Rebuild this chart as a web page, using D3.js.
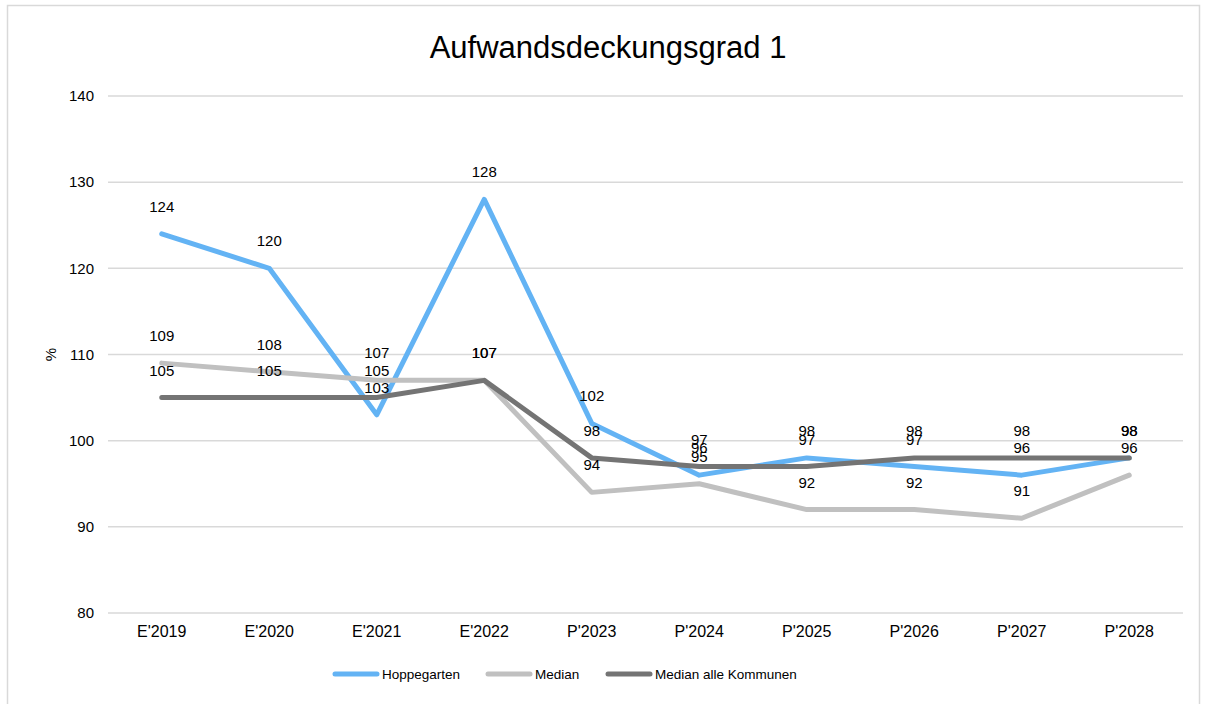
<!DOCTYPE html>
<html>
  <head>
    <meta charset="utf-8">
    <style>
      body {
        margin: 0;
        background: #fff;
        font-family: "Liberation Sans", Arial, sans-serif;
      }
      .grid line {
        stroke: #d9d9d9;
        stroke-width: 1.5px;
      }
      .series {
        fill: none;
        stroke-width: 5px;
        stroke-linejoin: round;
        stroke-linecap: round;
      }
      .lbl {
        font-size: 15px;
        fill: #000;
      }
    </style>
  </head>
  <body>
    <script src="https://d3js.org/d3.v7.min.js"></script>
    <script>
      // categories and values
      var years = ["E'2019", "E'2020", "E'2021", "E'2022", "P'2023", "P'2024", "P'2025", "P'2026", "P'2027", "P'2028"];
      var hoppegarten = [124, 120, 103, 128, 102, 96, 98, 97, 96, 98];
      var median = [109, 108, 107, 107, 94, 95, 92, 92, 91, 96];
      var medianAlle = [105, 105, 105, 107, 98, 97, 97, 98, 98, 98];
      var yTicks = [80, 90, 100, 110, 120, 130, 140];

      var series = [
        {name: "Hoppegarten", values: hoppegarten, color: "#63b3f4"},
        {name: "Median", values: median, color: "#c0c0c0"},
        {name: "Median alle Kommunen", values: medianAlle, color: "#747474"}
      ];

      var W = 1206, H = 704;
      var plotL = 108, plotR = 1183, plotT = 96, plotB = 613;

      var svg = d3.select("body").append("svg")
        .attr("width", W)
        .attr("height", H);

      // chart frame
      svg.append("rect")
        .attr("x", 7.5).attr("y", 5.5)
        .attr("width", 1192).attr("height", 720)
        .attr("fill", "none")
        .attr("stroke", "#d9d9d9")
        .attr("stroke-width", 1.5);

      var x = d3.scaleBand().domain(years).range([plotL, plotR]);
      var y = d3.scaleLinear().domain([80, 140]).range([plotB, plotT]);

      // gridlines
      svg.append("g").attr("class", "grid")
        .selectAll("line").data(yTicks).enter().append("line")
        .attr("x1", plotL).attr("x2", plotR)
        .attr("y1", d => y(d)).attr("y2", d => y(d));

      // y axis labels
      var yAxis = d3.axisLeft(y).tickValues(yTicks).tickSize(0).tickPadding(0);
      var gy = svg.append("g").attr("transform", "translate(" + (plotL - 14) + ",0)").call(yAxis);
      gy.select(".domain").remove();
      gy.selectAll("text")
        .attr("font-family", "Liberation Sans, Arial, sans-serif")
        .attr("font-size", 15).attr("fill", "#000");

      // x axis labels
      var xAxis = d3.axisBottom(x).tickSize(0).tickPadding(13);
      var gx = svg.append("g").attr("transform", "translate(0," + plotB + ")").call(xAxis);
      gx.select(".domain").remove();
      gx.selectAll("text")
        .attr("font-family", "Liberation Sans, Arial, sans-serif")
        .attr("font-size", 16).attr("fill", "#000");

      // y axis title
      svg.append("text")
        .attr("transform", "translate(56," + y(110) + ") rotate(-90)")
        .attr("text-anchor", "middle")
        .attr("font-size", 15)
        .text("%");

      // title
      svg.append("text")
        .attr("x", 608).attr("y", 58)
        .attr("text-anchor", "middle")
        .attr("font-size", 31)
        .text("Aufwandsdeckungsgrad 1");

      var line = d3.line()
        .x((d, i) => x(years[i]) + x.bandwidth() / 2)
        .y(d => y(d));

      series.forEach(function(s) {
        svg.append("path")
          .attr("class", "series")
          .attr("stroke", s.color)
          .attr("d", line(s.values));
      });

      // data labels, all placed above the point
      series.forEach(function(s) {
        svg.append("g").selectAll("text").data(s.values).enter().append("text")
          .attr("class", "lbl")
          .attr("text-anchor", "middle")
          .attr("x", (d, i) => x(years[i]) + x.bandwidth() / 2)
          .attr("y", d => y(d) - 22)
          .text(d => d);
      });

      // legend
      var legX = [332, 485, 605];
      var leg = svg.append("g").selectAll("g").data(series).enter().append("g")
        .attr("transform", (d, i) => "translate(" + legX[i] + ",674)");
      leg.append("line")
        .attr("x1", 3).attr("x2", 45)
        .attr("stroke", d => d.color)
        .attr("stroke-width", 5)
        .attr("stroke-linecap", "round");
      leg.append("text")
        .attr("x", 50).attr("y", 5)
        .attr("font-size", 13.5)
        .text(d => d.name);
    </script>
  </body>
</html>
